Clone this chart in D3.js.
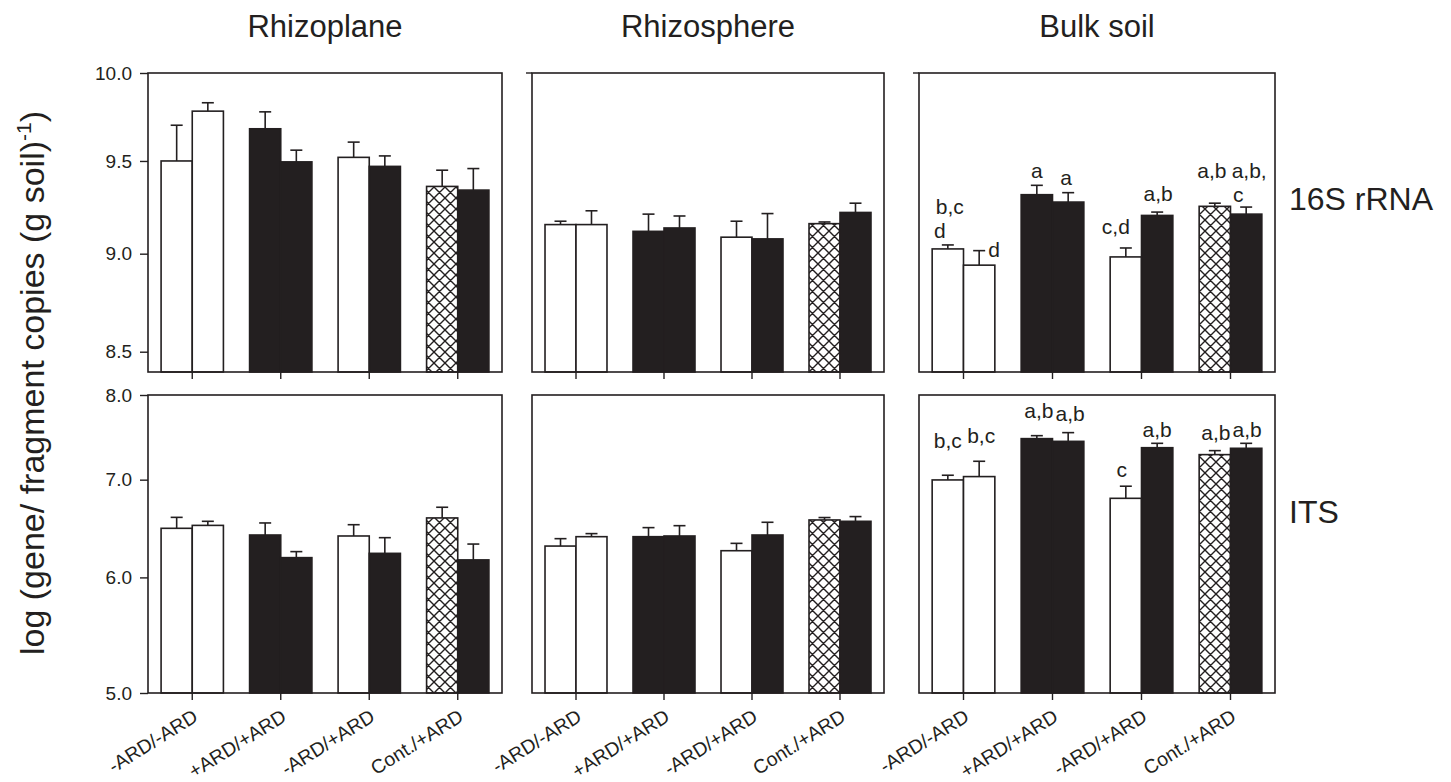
<!DOCTYPE html>
<html><head><meta charset="utf-8">
<script src="https://cdn.jsdelivr.net/npm/d3@7"></script>
<style>
html,body{margin:0;padding:0;background:#fff;}
svg text{font-family:"Liberation Sans",Arial,Helvetica,sans-serif;fill:#231f20;}
</style></head>
<body>
<svg id="chart" width="1451" height="782"></svg>
<script>
// ---------- data ----------
const categories = ["-ARD/-ARD", "+ARD/+ARD", "-ARD/+ARD", "Cont./+ARD"];
const panelTitles = ["Rhizoplane", "Rhizosphere", "Bulk soil"];
const rowLabels = ["16S rRNA", "ITS"];
const barFills = ["white", "white", "black", "black", "white", "black", "hatch", "black"];

const rRNA_rhizoplane     = [9.50, 9.78, 9.68, 9.495, 9.52, 9.47, 9.36, 9.34];
const rRNA_rhizoplane_err = [0.20, 0.048, 0.096, 0.065, 0.085, 0.058, 0.089, 0.118];
const rRNA_rhizosphere     = [9.154, 9.154, 9.118, 9.136, 9.087, 9.078, 9.159, 9.219];
const rRNA_rhizosphere_err = [0.018, 0.074, 0.092, 0.064, 0.085, 0.135, 0.009, 0.05];
const rRNA_bulk     = [9.025, 8.94, 9.315, 9.275, 8.983, 9.203, 9.252, 9.21];
const rRNA_bulk_err = [0.021, 0.076, 0.051, 0.051, 0.047, 0.018, 0.017, 0.038];

const ITS_rhizoplane     = [6.483, 6.513, 6.415, 6.19, 6.405, 6.232, 6.59, 6.168];
const ITS_rhizoplane_err = [0.113, 0.042, 0.123, 0.059, 0.115, 0.156, 0.112, 0.156];
const ITS_rhizosphere     = [6.304, 6.398, 6.398, 6.405, 6.258, 6.415, 6.569, 6.555];
const ITS_rhizosphere_err = [0.074, 0.031, 0.092, 0.105, 0.073, 0.13, 0.025, 0.049];
const ITS_bulk     = [6.997, 7.034, 7.468, 7.436, 6.797, 7.362, 7.282, 7.355];
const ITS_bulk_err = [0.052, 0.172, 0.035, 0.103, 0.131, 0.051, 0.046, 0.058];

const rRNA_ticks = [8.5, 9.0, 9.5, 10.0];
const rRNA_tickLabels = ["8.5", "9.0", "9.5", "10.0"];
const ITS_ticks = [5, 6, 7, 8];
const ITS_tickLabels = ["5.0", "6.0", "7.0", "8.0"];
const rRNA_domain = [8.4, 10];
const ITS_domain = [5, 8];

// significance letters (bar index, text)
const rRNA_bulk_letters = [[0,"b,c"],[0,"d"],[1,"d"],[2,"a"],[3,"a"],[4,"c,d"],[5,"a,b"],[6,"a,b"],[7,"a,b,"],[7,"c"]];
const ITS_bulk_letters  = [[0,"b,c"],[1,"b,c"],[2,"a,b"],[3,"a,b"],[4,"c"],[5,"a,b"],[6,"a,b"],[7,"a,b"]];

// ---------- layout ----------
const rRNA_letterNudge = [[2,-31],[-8,-7],[15,6],[0,-7],[-2,-8],[-10,-14],[1,-11],[-3,-25],[3,-29],[-8,-5]];
const ITS_letterNudge  = [[0,-27],[2,-18],[2,-18],[2,-12],[-4,-9],[0,-6],[1,-11],[1,-6]];

const panelX = [148, 532, 919];
const panelW = [354, 352, 356];
const rows = [
  {top: 73, bottom: 372, domain: rRNA_domain, ticks: rRNA_ticks, tickLabels: rRNA_tickLabels,
   values: [rRNA_rhizoplane, rRNA_rhizosphere, rRNA_bulk],
   errs: [rRNA_rhizoplane_err, rRNA_rhizosphere_err, rRNA_bulk_err],
   letters: [null, null, rRNA_bulk_letters], nudge: [null, null, rRNA_letterNudge],
   label: rowLabels[0], labelY: 210},
  {top: 395, bottom: 693, domain: ITS_domain, ticks: ITS_ticks, tickLabels: ITS_tickLabels,
   values: [ITS_rhizoplane, ITS_rhizosphere, ITS_bulk],
   errs: [ITS_rhizoplane_err, ITS_rhizosphere_err, ITS_bulk_err],
   letters: [null, null, ITS_bulk_letters], nudge: [null, null, ITS_letterNudge],
   label: rowLabels[1], labelY: 523}
];

const ink = "#231f20";
const svg = d3.select("#chart");

// hatch pattern
const defs = svg.append("defs");
const hp = 11;
const pat = defs.append("pattern").attr("id", "hatch").attr("patternUnits", "userSpaceOnUse")
  .attr("width", hp).attr("height", hp);
pat.append("rect").attr("width", hp).attr("height", hp).attr("fill", "white");
pat.append("path").attr("d", `M0,0L${hp},${hp}M${hp},0L0,${hp}M-1,${hp-1}L1,${hp+1}M${hp-1},-1L${hp+1},1M-1,1L1,-1M${hp-1},${hp+1}L${hp+1},${hp-1}`)
  .attr("stroke", ink).attr("stroke-width", 1.4);

function fillOf(f) { return f === "hatch" ? "url(#hatch)" : (f === "black" ? ink : "white"); }

// column titles
panelTitles.forEach((t, i) => {
  svg.append("text").attr("x", panelX[i] + panelW[i] / 2).attr("y", 37)
    .attr("text-anchor", "middle").attr("font-size", 31).text(t);
});

rows.forEach((row, ri) => {
  const y = d3.scaleLog().domain(row.domain).range([row.bottom, row.top]);
  panelX.forEach((px, pi) => {
    const g = svg.append("g").attr("transform", `translate(${px},0)`);
    const x0 = d3.scaleBand().domain(categories).range([0, panelW[pi]]).padding(0);
    const x1 = d3.scaleBand().domain([0, 1]).range([0, x0.bandwidth()]).paddingInner(0).paddingOuter(0.42);
    const vals = row.values[pi], errs = row.errs[pi];
    const bars = vals.map((v, k) => ({v, e: errs[k], cat: categories[Math.floor(k / 2)], sub: k % 2, fill: barFills[k], k}));
    const bx = d => x0(d.cat) + x1(d.sub);
    const bw = x1.bandwidth();

    // error bars (upward only)
    g.selectAll("line.err").data(bars).join("line")
      .attr("x1", d => bx(d) + bw / 2).attr("x2", d => bx(d) + bw / 2)
      .attr("y1", d => y(d.v)).attr("y2", d => y(d.v + d.e))
      .attr("stroke", ink).attr("stroke-width", 1.6);
    g.selectAll("line.cap").data(bars).join("line")
      .attr("x1", d => bx(d) + bw / 2 - 6).attr("x2", d => bx(d) + bw / 2 + 6)
      .attr("y1", d => y(d.v + d.e)).attr("y2", d => y(d.v + d.e))
      .attr("stroke", ink).attr("stroke-width", 1.6);

    // bars
    g.selectAll("rect.bar").data(bars).join("rect")
      .attr("x", d => bx(d)).attr("width", bw)
      .attr("y", d => y(d.v)).attr("height", d => row.bottom - y(d.v))
      .attr("fill", d => fillOf(d.fill)).attr("stroke", ink).attr("stroke-width", 1.6);

    // frame
    g.append("rect").attr("x", 0).attr("y", row.top).attr("width", panelW[pi]).attr("height", row.bottom - row.top)
      .attr("fill", "none").attr("stroke", ink).attr("stroke-width", 1.6);

    // x ticks
    g.selectAll("line.xt").data(categories).join("line")
      .attr("x1", c => x0(c) + x0.bandwidth() / 2).attr("x2", c => x0(c) + x0.bandwidth() / 2)
      .attr("y1", row.bottom).attr("y2", row.bottom + 7)
      .attr("stroke", ink).attr("stroke-width", 1.4);

    // y axis (left panels)
    if (pi === 0) {
      const ax = d3.axisLeft(y).tickValues(row.ticks).tickFormat((d, i) => row.tickLabels[i]).tickSize(8).tickPadding(8);
      const ag = g.append("g").call(ax);
      ag.select(".domain").remove();
      ag.selectAll("line").attr("stroke", ink).attr("stroke-width", 1.4);
      ag.selectAll("text").attr("font-size", 19).attr("fill", ink)
        .style("font-family", '"Liberation Sans",Arial,sans-serif');
    } else if (ri === 0) {
      g.append("line").attr("x1", -6).attr("x2", 0).attr("y1", y(row.domain[1])).attr("y2", y(row.domain[1]))
        .attr("stroke", ink).attr("stroke-width", 1.4);
    }

    // letters
    if (row.letters[pi]) {
      row.letters[pi].forEach((L, li) => {
        const d = bars[L[0]];
        const n = row.nudge[pi][li];
        g.append("text").attr("x", bx(d) + bw / 2 + n[0]).attr("y", y(d.v + d.e) + n[1])
          .attr("text-anchor", "middle").attr("font-size", 21).text(L[1]);
      });
    }

    // x labels (bottom row)
    if (ri === rows.length - 1) {
      categories.forEach(c => {
        const cx = x0(c) + x0.bandwidth() / 2;
        g.append("text").attr("transform", `translate(${cx + 7},${row.bottom + 27}) rotate(-32)`)
          .attr("text-anchor", "end").attr("font-size", 19.5).text(c);
      });
    }
  });
  // row label
  svg.append("text").attr("x", 1289).attr("y", row.labelY).attr("font-size", 32).text(row.label);
});

// y-axis title
const yt = svg.append("text").attr("transform", "translate(44,383) rotate(-90)")
  .attr("text-anchor", "middle").attr("font-size", 34);
yt.append("tspan").text("log (gene/ fragment copies (g soil)");
yt.append("tspan").attr("dy", -13).attr("font-size", 21).text("-1");
yt.append("tspan").attr("dy", 13).text(")");
</script>
</body></html>
